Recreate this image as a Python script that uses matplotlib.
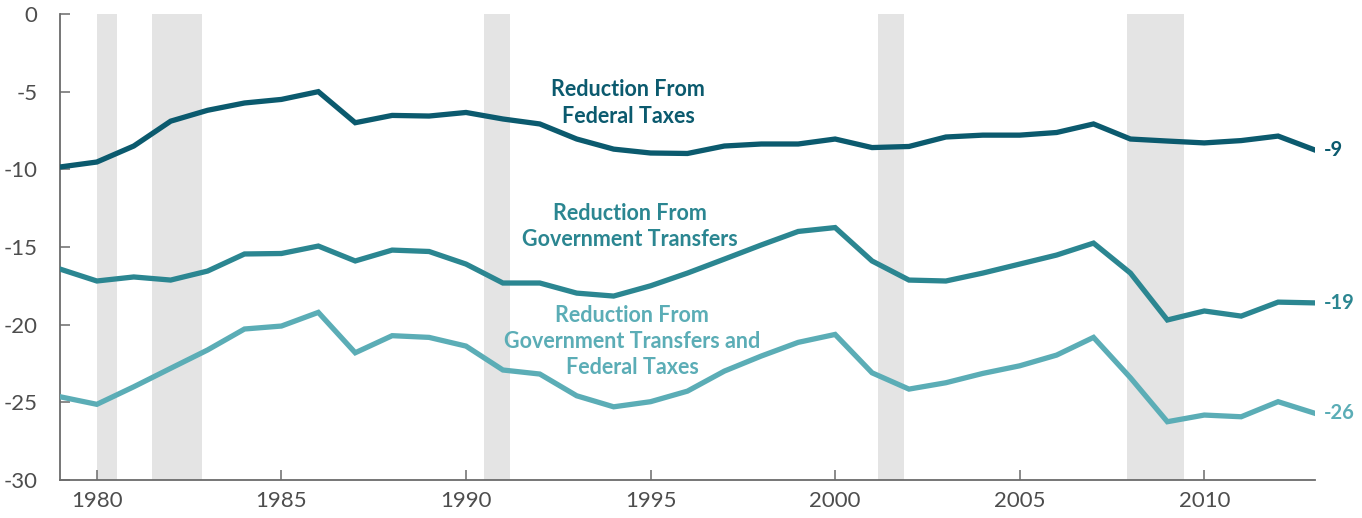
import matplotlib
matplotlib.use("Agg")
import matplotlib.pyplot as plt

plt.rcParams['font.family'] = ['Lato', 'DejaVu Sans']
plt.rcParams['axes.unicode_minus'] = False

# data
years = list(range(1979, 2014))
federal_taxes = [-9.85, -9.53, -8.5, -6.9, -6.2, -5.73, -5.5, -5.0, -7.0, -6.53,
                 -6.57, -6.34, -6.76, -7.08, -8.05, -8.7, -8.95, -8.98, -8.5, -8.37,
                 -8.37, -8.05, -8.6, -8.53, -7.92, -7.8, -7.8, -7.63, -7.08, -8.05,
                 -8.18, -8.3, -8.15, -7.86, -8.76]
gov_transfers = [-16.42, -17.19, -16.93, -17.13, -16.55, -15.45, -15.42, -14.94, -15.9, -15.2,
                 -15.29, -16.1, -17.32, -17.32, -17.97, -18.16, -17.5, -16.68, -15.78, -14.87,
                 -14.0, -13.75, -15.9, -17.13, -17.19, -16.68, -16.1, -15.52, -14.75, -16.68,
                 -19.7, -19.12, -19.45, -18.55, -18.6]
transfers_and_taxes = [-24.64, -25.13, -24.0, -22.81, -21.63, -20.28, -20.09, -19.21, -21.81, -20.71,
                       -20.82, -21.38, -22.92, -23.18, -24.58, -25.29, -24.96, -24.28, -22.99, -22.02,
                       -21.14, -20.63, -23.1, -24.15, -23.74, -23.14, -22.65, -21.96, -20.82, -23.42,
                       -26.25, -25.82, -25.93, -24.96, -25.71]
recessions = [(1980.0, 1980.54), (1981.49, 1982.85), (1990.49, 1991.2),
              (2001.17, 2001.87), (2007.9, 2009.45)]
end_labels = ["-9", "-19", "-26"]
series_names = ["Reduction From\nFederal Taxes",
                "Reduction From\nGovernment Transfers",
                "Reduction From\nGovernment Transfers and\nFederal Taxes"]
name_pos = [(1994.4, -5.73), (1994.45, -13.68), (1994.5, -21.06)]
colors = ["#0b5a6e", "#2b8691", "#5badb6"]

fig = plt.figure(figsize=(13.62, 5.18), dpi=100)
ax = fig.add_axes([0.044, 0.0734, 0.9215, 0.8996])

for a, b in recessions:
    ax.axvspan(a, b, color="#e4e4e4", lw=0, zorder=0)

for vals, c, lab, nm, pos in zip([federal_taxes, gov_transfers, transfers_and_taxes],
                                 colors, end_labels, series_names, name_pos):
    ax.plot(years, vals, color=c, lw=3.8, solid_joinstyle="miter", zorder=3)
    ax.text(years[-1] + 0.25, vals[-1], lab, color=c, fontsize=14.5, fontweight="bold",
            ha="left", va="center")
    ax.text(pos[0], pos[1], nm, color=c, fontsize=15.5, fontweight="bold",
            ha="center", va="center", linespacing=1.3, zorder=4)

ax.set_xlim(1979, 2013)
ax.set_ylim(-30, 0)
ax.set_xticks(range(1980, 2011, 5))
ax.set_yticks(range(-30, 1, 5))
for s in ["top", "right"]:
    ax.spines[s].set_visible(False)
for s in ["left", "bottom"]:
    ax.spines[s].set_color("#6b6b6b")
    ax.spines[s].set_linewidth(1.3)
ax.tick_params(axis="both", direction="in", length=7, width=1.1, color="#6b6b6b",
               labelsize=16, labelcolor="#4d4d4d")
ax.tick_params(axis="y", pad=16)
ax.tick_params(axis="x", pad=8)

fig.savefig("out.png", dpi=100)
